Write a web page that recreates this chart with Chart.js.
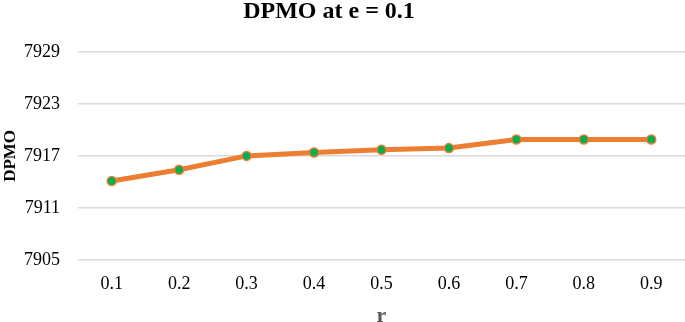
<!DOCTYPE html>
<html>
<head>
<meta charset="utf-8">
<script src="https://cdn.jsdelivr.net/npm/chart.js@4/dist/chart.umd.min.js"></script>
<style>
html,body{margin:0;padding:0;background:#fff;overflow:hidden;}
#wrap{width:685px;height:322px;position:relative;}
</style>
</head>
<body>
<div id="wrap"><canvas id="c" width="685" height="322"></canvas></div>
<script>
const categories = ['0.1','0.2','0.3','0.4','0.5','0.6','0.7','0.8','0.9'];
const dpmoValues = [7914.1, 7915.4, 7917.0, 7917.4, 7917.7, 7917.9, 7918.9, 7918.9, 7918.9];
const yTicks = [7905, 7911, 7917, 7923, 7929];

const FONT = "'Liberation Serif', 'Times New Roman', serif";

const titleShift = {
  id: 'titleShift',
  afterLayout(chart) {
    if (chart.titleBlock) chart.titleBlock.right -= 27;
  }
};

new Chart(document.getElementById('c'), {
  type: 'line',
  data: {
    labels: categories,
    datasets: [{
      label: 'DPMO',
      data: dpmoValues,
      borderColor: '#ED7D31',
      borderWidth: 5,
      pointRadius: 4.5,
      pointHoverRadius: 4.5,
      pointBackgroundColor: '#00B050',
      pointBorderColor: '#ED7D31',
      pointBorderWidth: 1.5,
      tension: 0,
      fill: false,
      clip: false
    }]
  },
  options: {
    responsive: false,
    animation: false,
    layout: { padding: 0, autoPadding: false },
    plugins: {
      legend: { display: false },
      tooltip: { enabled: false },
      title: {
        display: true,
        text: 'DPMO at e = 0.1',
        color: '#000',
        font: { family: FONT, size: 24, weight: 'bold' },
        padding: { top: -3, bottom: 26 }
      }
    },
    scales: {
      x: {
        offset: true,
        grid: { display: false, drawTicks: false },
        border: { display: false },
        ticks: { color: '#000', font: { family: FONT, size: 18 }, padding: 13 },
        title: {
          display: true,
          text: 'r',
          color: '#595959',
          font: { family: FONT, size: 22, weight: 'bold' },
          padding: { top: 0, bottom: -8 }
        },
        afterFit(axis) { axis.height = 62; axis.paddingLeft = 0; axis.paddingRight = 0; }
      },
      y: {
        min: 7905,
        max: 7929,
        afterBuildTicks(axis) { axis.ticks = yTicks.map(v => ({ value: v })); },
        grid: { color: '#D9D9D9', lineWidth: 1.5, drawTicks: false },
        border: { display: false },
        ticks: {
          color: '#000',
          font: { family: FONT, size: 18 },
          padding: 18,
          callback: (v) => String(v)
        },
        title: {
          display: true,
          text: 'DPMO',
          color: '#000',
          font: { family: FONT, size: 17, weight: 'bold' },
          padding: { top: 0, bottom: 0 }
        },
        afterFit(axis) { axis.width = 78; }
      }
    }
  },
  plugins: [titleShift]
});
</script>
</body>
</html>
